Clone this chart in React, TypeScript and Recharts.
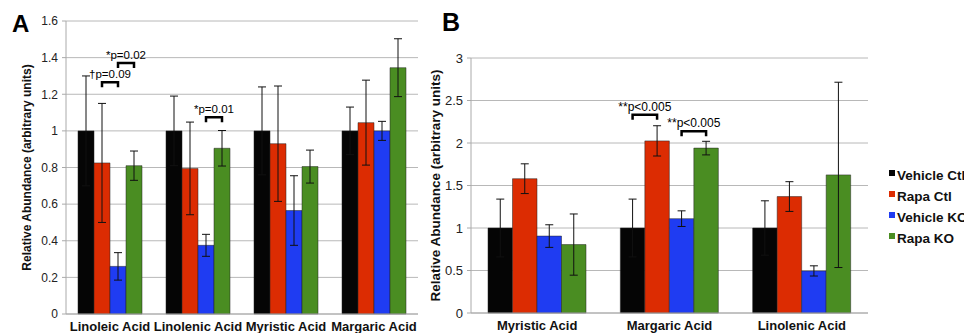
import React from 'react';
import { Bar, BarChart, CartesianGrid, ErrorBar, LabelList, Legend, XAxis, YAxis } from 'recharts';

// panel A
const categoriesA = ['Linoleic Acid', 'Linolenic Acid', 'Myristic Acid', 'Margaric Acid'];
const vehicleCtlA = [1, 1, 1, 1];
const vehicleCtlErrA = [0.3, 0.19, 0.24, 0.13];
const rapaCtlA = [0.825, 0.795, 0.93, 1.045];
const rapaCtlErrA = [0.325, 0.253, 0.315, 0.232];
const vehicleKoA = [0.26, 0.375, 0.565, 1.0];
const vehicleKoErrA = [0.075, 0.06, 0.19, 0.052];
const rapaKoA = [0.81, 0.905, 0.805, 1.345];
const rapaKoErrA = [0.08, 0.097, 0.09, 0.158];
const ticksA = [0, 0.2, 0.4, 0.6, 0.8, 1, 1.2, 1.4, 1.6];

// panel B
const categoriesB = ['Myristic Acid', 'Margaric Acid', 'Linolenic Acid'];
const vehicleCtlB = [1, 1, 1];
const vehicleCtlErrB = [0.34, 0.34, 0.32];
const rapaCtlB = [1.58, 2.025, 1.37];
const rapaCtlErrB = [0.175, 0.178, 0.175];
const vehicleKoB = [0.905, 1.11, 0.495];
const vehicleKoErrB = [0.133, 0.092, 0.06];
const rapaKoB = [0.805, 1.94, 1.625];
const rapaKoErrB = [0.36, 0.08, 1.09];
const ticksB = [0, 0.5, 1, 1.5, 2, 2.5, 3];

const seriesKeys = ['vehicleCtl', 'rapaCtl', 'vehicleKo', 'rapaKo'];
const seriesNames = ['Vehicle Ctl', 'Rapa Ctl', 'Vehicle KO', 'Rapa KO'];
const seriesColors = ['#050505', '#dc2c02', '#1f3cf2', '#4a8d22'];

// significance brackets: start bar (series) -> next bar in same group
const annotationsA = [
  { index: 0, from: 'rapaCtl', level: 1.265, text: '†p=0.09' },
  { index: 0, from: 'vehicleKo', level: 1.37, text: '*p=0.02' },
  { index: 1, from: 'vehicleKo', level: 1.075, text: '*p=0.01' },
];
const annotationsB = [
  { index: 1, from: 'vehicleCtl', level: 2.333, text: '**p<0.005' },
  { index: 1, from: 'vehicleKo', level: 2.137, text: '**p<0.005' },
];

function buildRows(cats: string[], vals: number[][], errs: number[][]) {
  return cats.map((name, i) => {
    const row: Record<string, string | number> = { name };
    seriesKeys.forEach((k, s) => {
      row[k] = vals[s][i];
      row[k + 'Err'] = errs[s][i];
    });
    return row;
  });
}

const dataA = buildRows(
  categoriesA,
  [vehicleCtlA, rapaCtlA, vehicleKoA, rapaKoA],
  [vehicleCtlErrA, rapaCtlErrA, vehicleKoErrA, rapaKoErrA],
);
const dataB = buildRows(
  categoriesB,
  [vehicleCtlB, rapaCtlB, vehicleKoB, rapaKoB],
  [vehicleCtlErrB, rapaCtlErrB, vehicleKoErrB, rapaKoErrB],
);

type Annotation = { index: number; from: string; level: number; text: string };

// drawn from the last series' labels so brackets sit on top of everything;
// positions come from that bar's rect (bars are packed with barGap 0)
function bracketRenderer(list: Annotation[], fontSize: number) {
  const last = seriesKeys.length - 1;
  return (props: any) => {
    const vb = props.viewBox || props;
    const { x, y, width, height } = vb;
    const value = Number(props.value);
    const anns = list.filter((a) => a.index === props.index);
    if (!anns.length || !value) return null;
    const base = y + height;
    return (
      <g>
        {anns.map((ann) => {
          const s = seriesKeys.indexOf(ann.from);
          const yb = base - (ann.level * height) / value;
          const x1 = x - (last - s) * width + width / 2;
          const x2 = x1 + width;
          return (
            <g key={ann.text + s}>
              <path
                d={`M${x1},${yb + 5}V${yb}H${x2}V${yb + 5}`}
                fill="none"
                stroke="#000"
                strokeWidth={2.5}
              />
              <text
                x={(x1 + x2) / 2}
                y={yb - 4}
                textAnchor="middle"
                fontSize={fontSize}
                fill="#000"
                stroke="none"
              >
                {ann.text}
              </text>
            </g>
          );
        })}
      </g>
    );
  };
}

function renderLegend(props: any) {
  const items = [...(props.payload || [])].sort(
    (a: any, b: any) => seriesKeys.indexOf(a.dataKey) - seriesKeys.indexOf(b.dataKey),
  );
  return (
    <div style={{ fontWeight: 'bold', fontSize: 13.5, color: '#111', whiteSpace: 'nowrap' }}>
      {items.map((entry: any) => (
        <div key={entry.value} style={{ display: 'flex', alignItems: 'flex-start', height: 21, lineHeight: '21px' }}>
          <span style={{ width: 6, height: 6, background: entry.color, marginTop: 5, marginRight: 2 }} />
          <span>{entry.value}</span>
        </div>
      ))}
    </div>
  );
}

const axisLabel = 'Relative Abundance (arbitrary units)';

export default function App() {
  return (
    <div
      style={{
        position: 'absolute',
        left: 0,
        top: 0,
        width: 964,
        height: 333,
        overflow: 'hidden',
        background: '#fff',
        fontFamily: '"Liberation Sans", Arial, sans-serif',
      }}
    >
      <div style={{ position: 'absolute', left: 12, top: 12, fontSize: 24, lineHeight: '24px', fontWeight: 'bold' }}>A</div>
      <div style={{ position: 'absolute', left: 442, top: 10, fontSize: 25, lineHeight: '25px', fontWeight: 'bold' }}>B</div>

      <div style={{ position: 'absolute', left: 0, top: 0 }}>
        <BarChart width={420} height={333} data={dataA} margin={{ top: 21, right: 2, bottom: 0, left: 0 }} barGap={0} barSize={16}>
          <CartesianGrid vertical={false} stroke="#b8b8b8" />
          <XAxis
            dataKey="name"
            height={19}
            interval={0}
            tickLine={false}
            stroke="#aaa"
            tick={{ fontSize: 13, fontWeight: 'bold', fill: '#111' }}
          />
          <YAxis
            width={66}
            domain={[0, 1.6]}
            ticks={ticksA}
            tickSize={4}
            tickMargin={4}
            stroke="#aaa"
            tick={{ fontSize: 12, fill: '#222' }}
            label={{
              value: axisLabel,
              angle: -90,
              position: 'insideLeft',
              offset: 27,
              style: { textAnchor: 'middle', fontWeight: 'bold', fontSize: 12, fill: '#111' },
            }}
          />
          {seriesKeys.map((k, s) => (
            <Bar key={k} dataKey={k} name={seriesNames[s]} fill={seriesColors[s]} stroke="#222" strokeWidth={0.5} isAnimationActive={false}>
              <ErrorBar dataKey={k + 'Err'} width={4} stroke="#111" strokeWidth={1} />
              {s === seriesKeys.length - 1 && <LabelList dataKey={k} content={bracketRenderer(annotationsA, 11.5)} />}
            </Bar>
          ))}
        </BarChart>
      </div>

      <div style={{ position: 'absolute', left: 420, top: 0 }}>
        <BarChart width={544} height={333} data={dataB} margin={{ top: 58, right: 96, bottom: 0, left: 0 }} barGap={0} barSize={24.5}>
          <CartesianGrid vertical={false} stroke="#b8b8b8" />
          <XAxis
            dataKey="name"
            height={20}
            interval={0}
            tickLine={false}
            stroke="#aaa"
            tick={{ fontSize: 13, fontWeight: 'bold', fill: '#111' }}
          />
          <YAxis
            width={51}
            domain={[0, 3]}
            ticks={ticksB}
            tickSize={4}
            tickMargin={4}
            stroke="#aaa"
            tick={{ fontSize: 13, fill: '#222' }}
            label={{
              value: axisLabel,
              angle: -90,
              position: 'insideLeft',
              offset: 15,
              style: { textAnchor: 'middle', fontWeight: 'bold', fontSize: 13.5, fill: '#111' },
            }}
          />
          <Legend
            layout="vertical"
            align="center"
            verticalAlign="middle"
            content={renderLegend}
            wrapperStyle={{ left: 469, top: 165, width: 120 }}
          />
          {seriesKeys.map((k, s) => (
            <Bar key={k} dataKey={k} name={seriesNames[s]} fill={seriesColors[s]} stroke="#222" strokeWidth={0.5} isAnimationActive={false}>
              <ErrorBar dataKey={k + 'Err'} width={4} stroke="#111" strokeWidth={1} />
              {s === seriesKeys.length - 1 && <LabelList dataKey={k} content={bracketRenderer(annotationsB, 12)} />}
            </Bar>
          ))}
        </BarChart>
      </div>
    </div>
  );
}
